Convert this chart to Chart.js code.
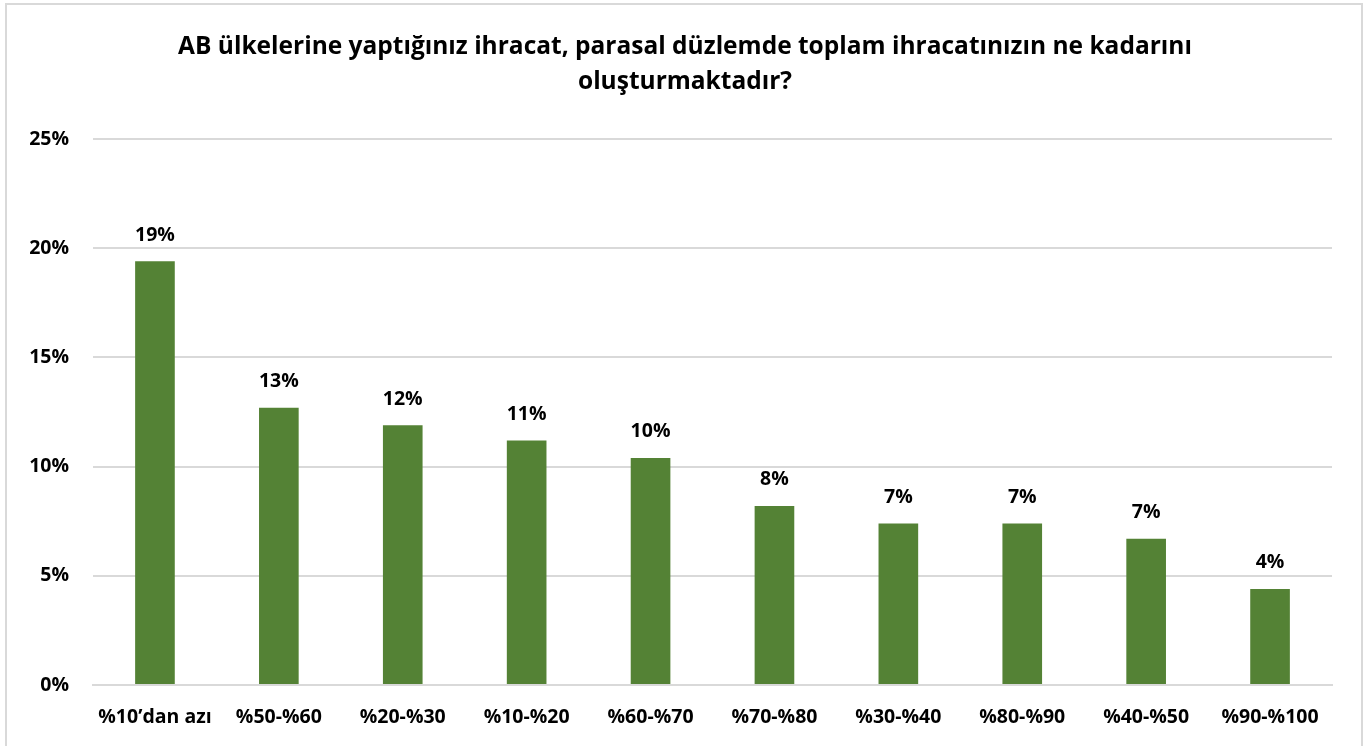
<!DOCTYPE html>
<html>
<head>
<meta charset="utf-8">
<script src="https://cdn.jsdelivr.net/npm/chart.js@4"></script>
<style>
  html, body { margin: 0; padding: 0; background: #fff; }
  #frame {
    position: absolute; left: 5px; top: 3px; width: 1358px; height: 760px;
    border: 2px solid #d9d9d9; box-sizing: border-box;
  }
  #wrap { position: absolute; left: 0; top: 0; width: 1370px; height: 746px; }
</style>
</head>
<body>
<div id="frame"></div>
<div id="wrap"><canvas id="myChart"></canvas></div>
<script>
/* data */
var categories = ['%10\u2019dan azı', '%50-%60', '%20-%30', '%10-%20', '%60-%70',
                  '%70-%80', '%30-%40', '%80-%90', '%40-%50', '%90-%100'];
var shares = [19.4, 12.7, 11.9, 11.2, 10.4, 8.2, 7.4, 7.4, 6.7, 4.4];
var yTicks = [0, 5, 10, 15, 20, 25];
var titleLines = ['AB ülkelerine yaptığınız ihracat, parasal düzlemde toplam ihracatınızın ne kadarını',
                  'oluşturmaktadır?'];

var FONT = '"Open Sans", Lato, sans-serif';

/* value labels above the bars */
var barLabels = {
  id: 'barLabels',
  afterDatasetsDraw: function(chart) {
    var ctx = chart.ctx;
    var meta = chart.getDatasetMeta(0);
    ctx.save();
    ctx.font = 'bold 19.5px ' + FONT;
    ctx.fillStyle = '#000';
    ctx.textAlign = 'center';
    ctx.textBaseline = 'middle';
    meta.data.forEach((bar, i) => {
      ctx.fillText(Math.round(shares[i]) + '%', bar.x, bar.y - 26);
    });
    ctx.restore();
  }
};

var ctx = document.getElementById('myChart').getContext('2d');
var myChart = new Chart(ctx, {
  type: 'bar',
  data: {
    labels: categories,
    datasets: [{
      label: 'share',
      data: shares,
      backgroundColor: '#548235',
      borderWidth: 0,
      categoryPercentage: 1,
      barPercentage: 0.32
    }]
  },
  options: {
    responsive: true,
    maintainAspectRatio: false,
    animation: false,
    layout: { padding: 0 },
    plugins: {
      legend: { display: false },
      tooltip: { enabled: false },
      title: {
        display: true,
        text: titleLines,
        color: '#000',
        font: { family: FONT, size: 24.5, weight: 'bold', lineHeight: 1.43 },
        padding: { top: 29.5, bottom: 39.5 }
      }
    },
    scales: {
      x: {
        grid: { display: false, drawTicks: false },
        border: { display: true, color: '#d9d9d9', width: 2 },
        ticks: {
          color: '#000',
          padding: 21,
          maxRotation: 0,
          autoSkip: false,
          font: { family: FONT, size: 19.5, weight: 'bold' }
        },
        afterFit: function(scale) { scale.height = 61; }
      },
      y: {
        min: 0,
        max: 25,
        afterBuildTicks: function(scale) {
          scale.ticks = yTicks.map((v) => ({ value: v }));
        },
        grid: { color: '#d9d9d9', lineWidth: 2, drawTicks: false },
        border: { display: false },
        ticks: {
          color: '#000',
          padding: 24,
          font: { family: FONT, size: 19.5, weight: 'bold' },
          callback: function(v) { return v + '%'; }
        },
        afterFit: function(scale) { scale.width = 93; }
      },
      // empty right axis, only keeps the plot off the right edge
      yRight: {
        position: 'right',
        min: 0,
        max: 25,
        grid: { display: false, drawTicks: false },
        border: { display: false },
        ticks: { display: false },
        afterFit: function(scale) { scale.width = 38; }
      }
    }
  },
  plugins: [barLabels]
});
</script>
</body>
</html>
